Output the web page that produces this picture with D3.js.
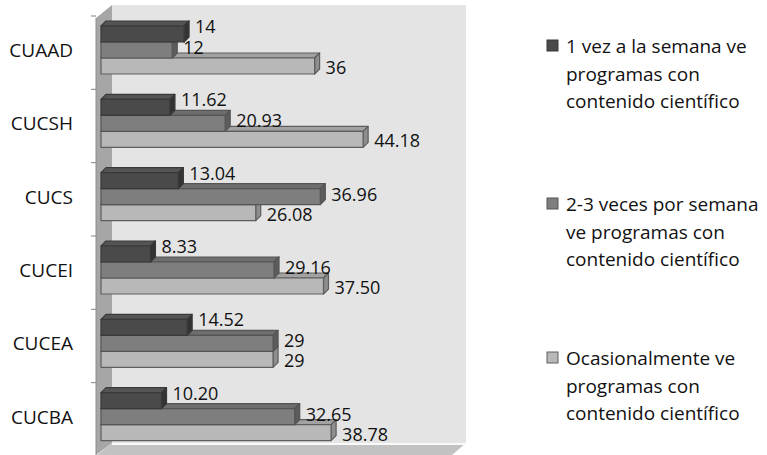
<!DOCTYPE html>
<html>
<head>
<meta charset="utf-8">
<script src="https://cdn.jsdelivr.net/npm/d3@7"></script>
<style>
  body { margin: 0; background: #fff; }
  text { font-family: "Open Sans", "Noto Sans", sans-serif; fill: #111; }
</style>
</head>
<body>
<svg id="chart" width="767" height="455"></svg>
<script>
const svg = d3.select('#chart');

// data
const centros = ['CUAAD', 'CUCSH', 'CUCS', 'CUCEI', 'CUCEA', 'CUCBA'];
const unaVez = [14, 11.62, 13.04, 8.33, 14.52, 10.20];
const dosTres = [12, 20.93, 36.96, 29.16, 29, 32.65];
const ocasional = [36, 44.18, 26.08, 37.50, 29, 38.78];
// labels exactly as printed on the chart
const unaVezTxt = ['14', '11.62', '13.04', '8.33', '14.52', '10.20'];
const dosTresTxt = ['12', '20.93', '36.96', '29.16', '29', '32.65'];
const ocasionalTxt = ['36', '44.18', '26.08', '37.50', '29', '38.78'];
const seriesNames = [
  ['1 vez a la semana ve', 'programas con', 'contenido científico'],
  ['2-3 veces por semana', 've programas con', 'contenido científico'],
  ['Ocasionalmente ve', 'programas con', 'contenido científico']
];

const series = [
  { values: unaVez, labels: unaVezTxt, front: '#4a4a4a', top: '#545454', side: '#333333', stroke: '#393939', lift: -8 },
  { values: dosTres, labels: dosTresTxt, front: '#7e7e7e', top: '#6e6e6e', side: '#5c5c5c', stroke: '#555555', lift: -3 },
  { values: ocasional, labels: ocasionalTxt, front: '#b8b8b8', top: '#a2a2a2', side: '#8e8e8e', stroke: '#5e5e5e', lift: 1 }
];

// scales
const x = d3.scaleLinear().domain([0, 60]).range([101, 457]);
const y = d3.scaleBand().domain(centros).range([16, 456]).padding(0);
const barH = 16;
const barTop = 10;      // offset of first bar below the band start
const dep = { dx: 5, dy: -5 }; // bar depth
const wall = { left: 96, back: 112, top: 5, bottom: 443, right: 466, front: 455 };

// walls
svg.append('polygon') // back wall
  .attr('points', [[wall.back, wall.top], [wall.right, wall.top], [wall.right, wall.bottom], [wall.back, wall.bottom]].join(' '))
  .attr('fill', '#e4e4e4');
svg.append('polygon') // floor
  .attr('points', [[wall.back, wall.bottom], [wall.right, wall.bottom], [wall.right - 14, wall.front], [wall.left + 1, wall.front]].join(' '))
  .attr('fill', '#c2c2c2');
svg.append('line')
  .attr('x1', wall.back).attr('x2', wall.right)
  .attr('y1', wall.bottom + 1).attr('y2', wall.bottom + 1)
  .attr('stroke', '#fafafa').attr('stroke-width', 2);
svg.append('polygon') // side wall
  .attr('points', [[wall.left, wall.top + 13], [wall.back, wall.top], [wall.back, wall.bottom], [wall.left, wall.front]].join(' '))
  .attr('fill', '#a6a6a6');
svg.append('line')
  .attr('x1', wall.left).attr('x2', wall.left)
  .attr('y1', wall.top + 13).attr('y2', wall.front)
  .attr('stroke', '#8c8c8c');

// category ticks on the side wall
const tickYs = centros.map(c => y(c)).concat([y.range()[1]]);
svg.append('g').selectAll('line').data(tickYs)
  .enter().append('line')
  .attr('x1', wall.left - 5).attr('x2', wall.left)
  .attr('y1', d => d).attr('y2', d => d)
  .attr('stroke', '#808080');

// category labels
svg.append('g').selectAll('text').data(centros)
  .enter().append('text')
  .attr('x', 73)
  .attr('y', d => y(d) + barTop + barH * 1.5)
  .attr('text-anchor', 'end')
  .attr('dominant-baseline', 'central')
  .attr('font-size', '19px')
  .text(d => d);

// bars (drawn bottom series first so upper fronts cover lower tops)
const bars = svg.append('g');
centros.forEach((c, i) => {
  for (let s = series.length - 1; s >= 0; s--) {
    const ser = series[s];
    const y0 = y(c) + barTop + s * barH;
    const x0 = x(0);
    const x1 = x(ser.values[i]);
    const g = bars.append('g')
      .attr('stroke', ser.stroke).attr('stroke-width', 1.2).attr('stroke-linejoin', 'round');
    g.append('polygon')
      .attr('points', [[x0, y0], [x1, y0], [x1 + dep.dx, y0 + dep.dy], [x0 + dep.dx, y0 + dep.dy]].join(' '))
      .attr('fill', ser.top);
    g.append('polygon')
      .attr('points', [[x1, y0], [x1 + dep.dx, y0 + dep.dy], [x1 + dep.dx, y0 + barH + dep.dy], [x1, y0 + barH]].join(' '))
      .attr('fill', ser.side);
    g.append('rect')
      .attr('x', x0).attr('y', y0)
      .attr('width', x1 - x0).attr('height', barH)
      .attr('fill', ser.front);
  }
});

// value labels
const labels = svg.append('g');
centros.forEach((c, i) => {
  series.forEach((ser, s) => {
    labels.append('text')
      .attr('x', x(ser.values[i]) + dep.dx + 6)
      .attr('y', y(c) + barTop + s * barH + barH / 2 + ser.lift)
      .attr('dominant-baseline', 'central')
      .attr('font-size', '18px')
      .text(ser.labels[i]);
  });
});

// legend
const legendTops = [46, 204, 358];
const lineGap = 27.5;
const legend = svg.append('g');
series.forEach((ser, s) => {
  legend.append('rect')
    .attr('x', 547).attr('y', legendTops[s] - 6)
    .attr('width', 11).attr('height', 11)
    .attr('fill', ser.front).attr('stroke', ser.stroke);
  legend.append('text')
    .attr('x', 566)
    .attr('font-size', '19px')
    .selectAll('tspan').data(seriesNames[s])
    .enter().append('tspan')
    .attr('x', 566)
    .attr('y', (d, k) => legendTops[s] + k * lineGap)
    .attr('dominant-baseline', 'central')
    .text(d => d);
});
</script>
</body>
</html>
